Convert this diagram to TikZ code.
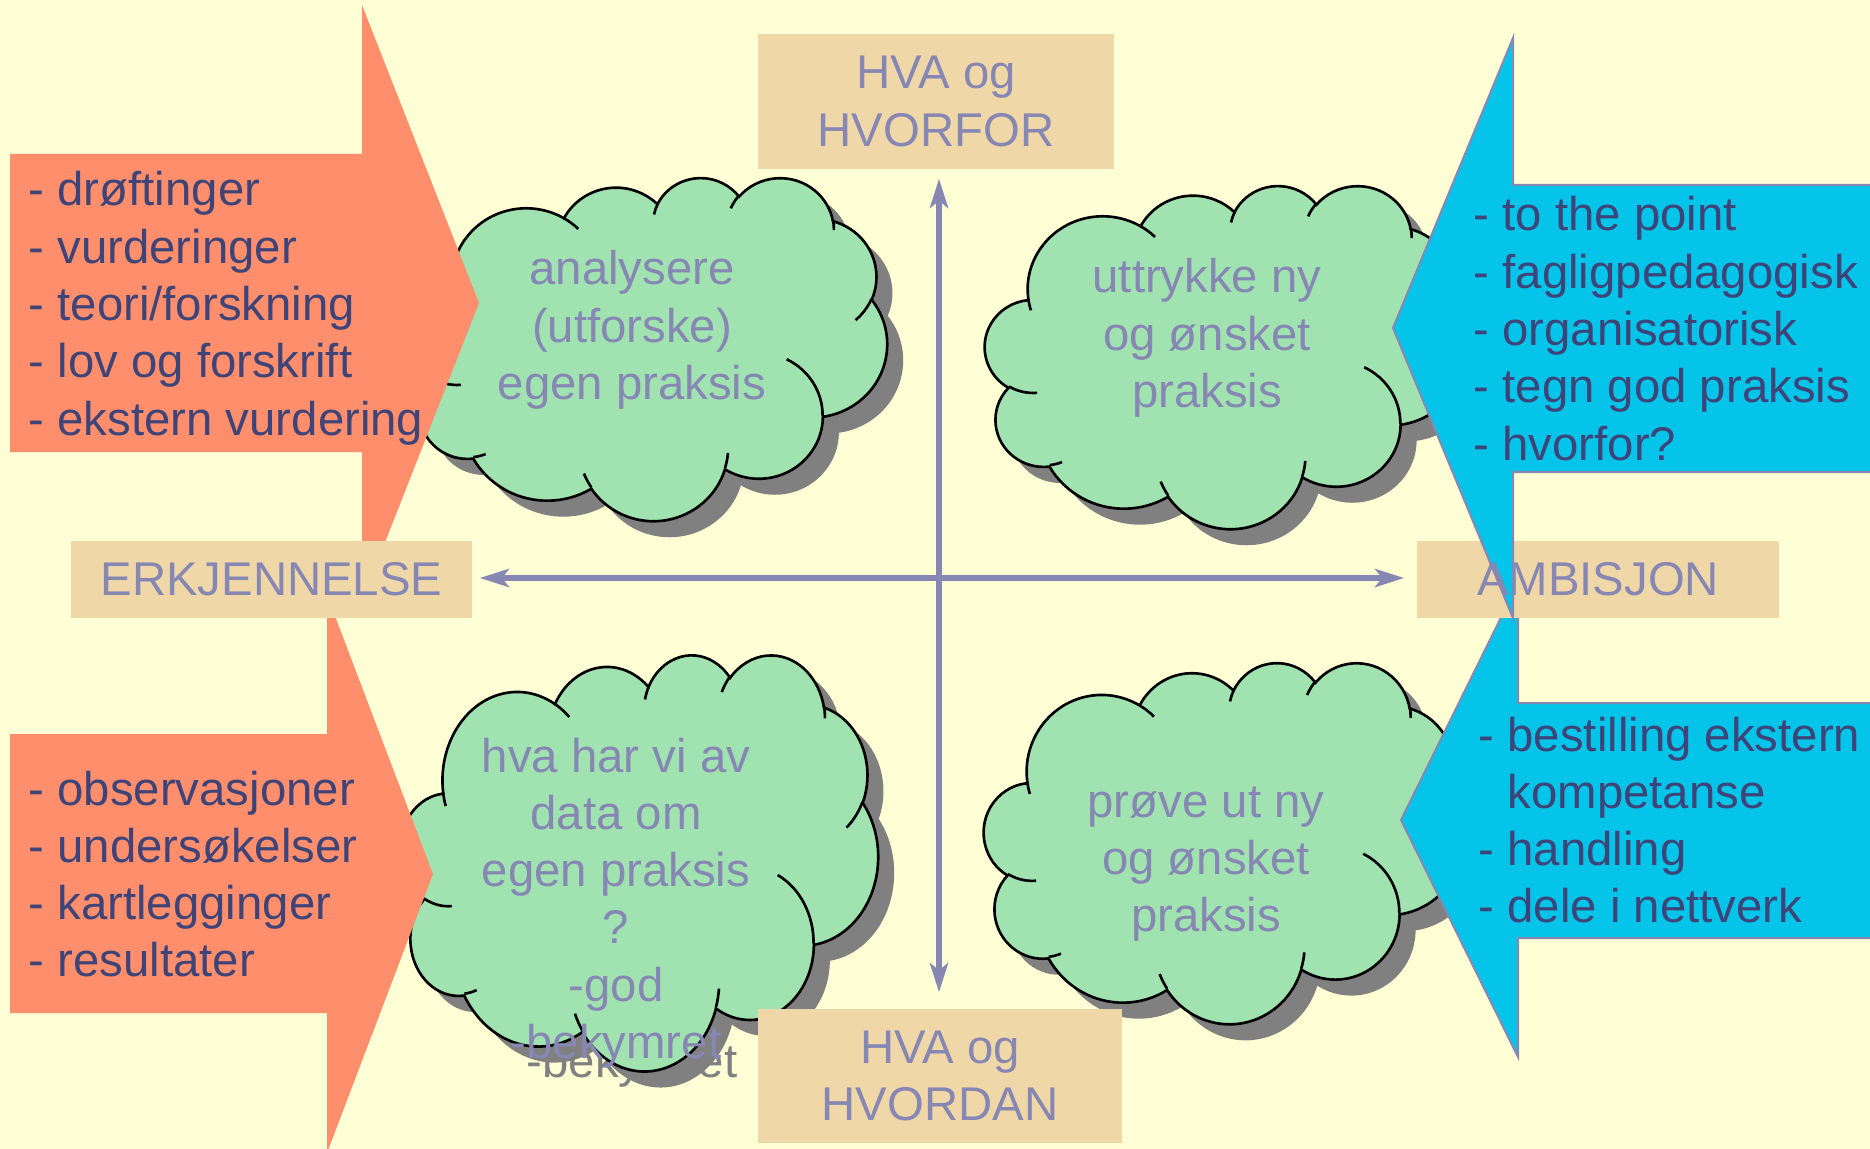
\documentclass[tikz,border=0pt]{standalone}
\usepackage{fontspec}
\setmainfont{Liberation Sans}
\usetikzlibrary{arrows.meta}
\definecolor{bgc}{RGB}{255,255,213}
\definecolor{orangec}{RGB}{255,142,108}
\definecolor{bluec}{RGB}{4,196,234}
\definecolor{boxc}{RGB}{240,215,168}
\definecolor{cloudc}{RGB}{160,227,176}
\definecolor{lavc}{RGB}{135,135,180}
\definecolor{navyc}{RGB}{63,68,120}
\definecolor{shadc}{RGB}{128,128,128}
\newcommand\myfs{\fontsize{13.46pt}{16.3pt}\selectfont}
\newcommand\llines[1]{\vtop{\halign{##\hfil\cr#1\crcr}}}
\newcommand\clines[1]{\vtop{\halign{\hfil##\hfil\cr#1\crcr}}}
\newcommand\carc[4]{arc[x radius=#1,y radius=#2,start angle={atan2((#1)*sin(#3),(#2)*cos(#3))},delta angle={mod(atan2((#1)*sin((#3)+(#4)),(#2)*cos((#3)+(#4)))-atan2((#1)*sin(#3),(#2)*cos(#3))+720,360)}]}
\newcommand\cloudouter{(39.00,143.70) \carc{67.53}{91.90}{-190.4875}{123.7805} \carc{53.33}{72.67}{-144.1024}{89.9452} \carc{43.65}{59.45}{-145.8079}{99.7230} \carc{48.57}{65.95}{-130.9861}{117.2417} \carc{53.33}{72.73}{-78.7089}{109.0269} \carc{67.75}{92.20}{-46.2673}{130.2690} \carc{57.85}{78.67}{0.6250}{114.0333} \carc{67.52}{92.15}{22.4516}{115.1726} \carc{77.20}{105.43}{66.2426}{75.7110} \carc{43.60}{59.18}{-274.9421}{146.7356} \carc{43.45}{59.45}{-246.8285}{152.5189} -- cycle}
\newcommand\cloudinner{(46.93,261.77) \carc{43.45}{59.45}{86.7420}{26.4295} (69.28,348.99) \carc{43.60}{59.18}{73.6105}{11.4475} (164.78,390.90) \carc{67.52}{92.15}{137.6242}{14.0811} (288.27,347.51) \carc{67.52}{92.15}{6.4533}{15.9984} (341.29,229.54) \carc{57.85}{78.67}{-70.2924}{70.9174} (417.98,153.54) \carc{53.33}{72.73}{30.3180}{27.7515} (383.24,54.26) \carc{48.57}{65.95}{-13.7443}{14.8589} (290.78,39.52) \carc{48.57}{65.95}{-149.1815}{18.1954} (221.41,47.20) \carc{43.65}{59.45}{-163.4943}{17.6864} (140.00,51.92) \carc{67.53}{91.90}{-66.7070}{12.3194} (41.27,157.89) \carc{67.53}{91.90}{157.6544}{11.8582}}
\newcommand\cloudshadow[4]{\begin{scope}[shift={(#1+16,#2+16)},xscale=#3/432,yscale=#4/432]\fill[shadc]\cloudouter;\end{scope}}
\newcommand\cloudbody[4]{\begin{scope}[shift={(#1,#2)},xscale=#3/432,yscale=#4/432]\filldraw[fill=cloudc,draw=black,line width=0.75pt]\cloudouter;\draw[black,line width=0.75pt]\cloudinner;\end{scope}}
\begin{document}
\begin{tikzpicture}[x=0.01cm,y=-0.01cm,
  listtext/.style={font=\myfs,text=navyc,inner sep=0pt},
  cloudtext/.style={font=\myfs,text=lavc,inner sep=0pt},
  boxlbl/.style={fill=boxc,inner sep=0pt,font=\myfs,text=lavc},
  lbltext/.style={inner sep=0pt,font=\myfs,text=lavc},
  axis/.style={draw=lavc,line width=0.055cm,>={Stealth[length=0.29cm,width=0.18cm,inset=0.07cm]},<->},
  bluearrow/.style={fill=bluec,draw=lavc,line width=0.02cm},
  orangearrow/.style={fill=orangec}]
\useasboundingbox (0,0) rectangle (1870,1149);
\clip (0,0) rectangle (1870,1149);
\fill[bgc] (0,0) rectangle (1870,1149);

% clouds
\cloudshadow{409}{177}{478}{343}
\cloudbody{409}{177}{478}{343}
\node[cloudtext,anchor=base] (c1t) at (632,285) {\clines{analysere\cr (utforske)\cr egen praksis}};

\cloudshadow{985}{185}{480}{343}
\cloudbody{985}{185}{480}{343}
\node[cloudtext,anchor=base] (c2t) at (1207,293) {\clines{uttrykke ny\cr og ønsket\cr praksis}};

\cloudshadow{400}{654}{478}{416}
\node[cloudtext,text=shadc,anchor=base] (c3s) at (632,1077) {-bekymret};
\cloudbody{400}{654}{478}{416}
\node[cloudtext,anchor=base] (c3t) at (616,772) {\clines{hva har vi av\cr data om\cr egen praksis\cr ?\cr -god\cr -bekymret}};

\cloudshadow{984}{662}{480}{361}
\cloudbody{984}{662}{480}{361}
\node[cloudtext,anchor=base] (c4t) at (1206,817) {\clines{prøve ut ny\cr og ønsket\cr praksis}};

% orange arrows
\fill[orangearrow] (10,154) -- (362,154) -- (362,5) -- (479,303) -- (362,601) -- (362,452) -- (10,452) -- cycle;
\fill[orangearrow] (10,734) -- (327,734) -- (327,595) -- (433,874) -- (327,1153) -- (327,1013) -- (10,1013) -- cycle;
\node[listtext,anchor=base west] (lt) at (28,206) {\llines{- drøftinger\cr - vurderinger\cr - teori/forskning\cr - lov og forskrift\cr - ekstern vurdering}};
\node[listtext,anchor=base west] (lb) at (28,805) {\llines{- observasjoner\cr - undersøkelser\cr - kartlegginger\cr - resultater}};

% bottom blue arrow
\filldraw[bluearrow] (1885,703) -- (1518,703) -- (1518,583) -- (1401,820) -- (1518,1057) -- (1518,938) -- (1885,938) -- cycle;
\node[listtext,anchor=base west] (rb) at (1478,751) {\llines{- bestilling ekstern\cr \hphantom{- }kompetanse\cr - handling\cr - dele i nettverk}};

% boxes
\node[boxlbl,minimum width=4.01cm,minimum height=0.77cm] (erk) at (271.5,579.5) {ERKJENNELSE};
\node[boxlbl,minimum width=3.62cm,minimum height=0.77cm] (amb) at (1598,579.5) {};
\node[boxlbl,minimum width=3.56cm,minimum height=1.35cm] (hvorfor) at (936,101.5) {\clines{HVA og\cr HVORFOR}};
\node[boxlbl,minimum width=3.64cm,minimum height=1.34cm] (hvordan) at (940,1076) {\clines{HVA og\cr HVORDAN}};

% axes
\coordinate (cross) at (939,578);
\draw[axis,shorten <=0.07cm,shorten >=0.12cm] (erk.east |- cross) -- (amb.west |- cross);
\draw[axis,shorten <=0.09cm,shorten >=0.16cm] (cross |- hvorfor.south) -- (cross |- hvordan.north);

% top blue arrow
\filldraw[bluearrow] (1885,185) -- (1513,185) -- (1513,38) -- (1393,328) -- (1513,618) -- (1513,472) -- (1885,472) -- cycle;
\node[listtext,anchor=base west] (rt) at (1473,231) {\llines{- to the point\cr - fagligpedagogisk\cr - organisatorisk\cr - tegn god praksis\cr - hvorfor?}};
\node[lbltext] (ambt) at (amb.center) {AMBISJON};
\end{tikzpicture}
\end{document}
